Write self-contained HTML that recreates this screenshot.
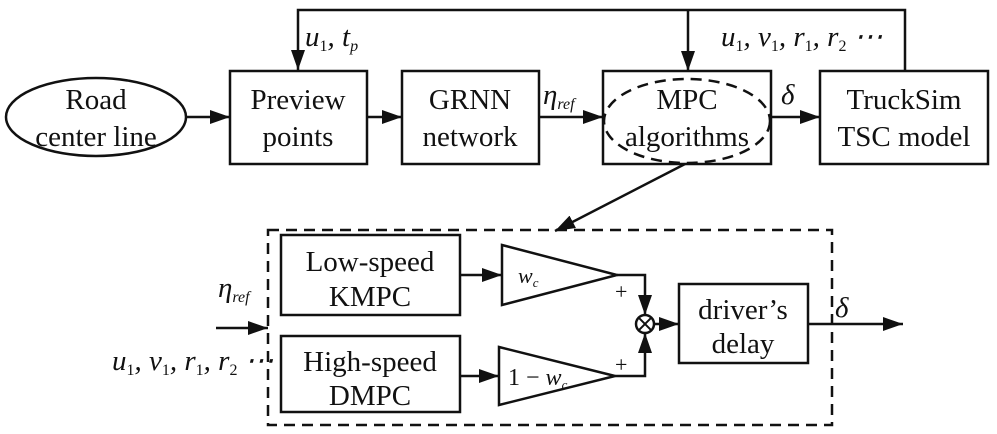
<!DOCTYPE html>
<html><head><meta charset="utf-8"><style>
html,body{margin:0;padding:0;background:#fff;}
svg{display:block;}
text{font-family:"Liberation Serif","DejaVu Serif",serif;fill:#111;}
.b{font-size:29px;}
.m{font-style:italic;font-size:29px;}
.s{font-style:normal;font-size:16px;}
.si{font-style:italic;font-size:16px;}
</style></head><body>
<svg width="997" height="434" viewBox="0 0 997 434" xmlns="http://www.w3.org/2000/svg">
<defs>
<marker id="A" viewBox="0 0 20 14" markerWidth="20" markerHeight="14" refX="20" refY="7" orient="auto" markerUnits="userSpaceOnUse"><path d="M0,0 L20,7 L0,14 z" fill="#111"/></marker></defs>
<g stroke="#111" stroke-width="2.5" fill="none">
<polyline points="905,71 905,10 298,10 298,70" marker-end="url(#A)"/>
<line x1="688" y1="10" x2="688" y2="71" marker-end="url(#A)"/>
<ellipse cx="96" cy="117" rx="90" ry="39"/>
<rect x="230" y="71" width="137" height="93"/>
<rect x="402" y="71" width="137" height="93"/>
<rect x="603" y="71" width="168" height="93"/>
<ellipse cx="687" cy="121" rx="83" ry="42" stroke-dasharray="11,7"/>
<rect x="820" y="71" width="168" height="93"/>
<line x1="186" y1="117" x2="230" y2="117" marker-end="url(#A)"/>
<line x1="367" y1="117" x2="402" y2="117" marker-end="url(#A)"/>
<line x1="539" y1="117" x2="603" y2="117" marker-end="url(#A)"/>
<line x1="771" y1="117" x2="820" y2="117" marker-end="url(#A)"/>
<line x1="685" y1="164" x2="555" y2="231" marker-end="url(#A)"/>
<rect x="268" y="230" width="564" height="195" stroke-dasharray="11,7"/>
<rect x="281" y="235" width="179" height="80"/>
<rect x="281" y="336" width="179" height="76"/>
<polygon points="502,245 617,275 502,305"/>
<polygon points="499,347 615,376 499,405"/>
<circle cx="645" cy="324" r="9"/>
<line x1="638.6" y1="317.6" x2="651.4" y2="330.4" stroke-width="2"/>
<line x1="651.4" y1="317.6" x2="638.6" y2="330.4" stroke-width="2"/>
<rect x="679" y="284" width="129" height="79"/>
<line x1="460" y1="275" x2="502" y2="275" marker-end="url(#A)"/>
<line x1="460" y1="376" x2="499" y2="376" marker-end="url(#A)"/>
<polyline points="617,275 645,275 645,315" marker-end="url(#A)"/>
<polyline points="615,376 645,376 645,333" marker-end="url(#A)"/>
<line x1="654" y1="324" x2="679" y2="324" marker-end="url(#A)"/>
<line x1="808" y1="324" x2="903" y2="324" marker-end="url(#A)"/>
<line x1="216" y1="328" x2="268" y2="328" marker-end="url(#A)"/>
</g>
<g text-anchor="middle" class="b">
<text x="96" y="109">Road</text><text x="96" y="146">center line</text>
<text x="298" y="109">Preview</text><text x="298" y="146">points</text>
<text x="470" y="109">GRNN</text><text x="470" y="146">network</text>
<text x="687" y="109">MPC</text><text x="687" y="146">algorithms</text>
<text x="904" y="109">TruckSim</text><text x="904" y="146">TSC model</text>
<text x="370" y="271">Low-speed</text><text x="370" y="306">KMPC</text>
<text x="370" y="371">High-speed</text><text x="370" y="405">DMPC</text>
<text x="743" y="319">driver’s</text><text x="743" y="353">delay</text>
</g>
<text x="305" y="46" class="m">u<tspan class="s" dy="5">1</tspan><tspan dy="-5">, t</tspan><tspan class="si" dy="5">p</tspan></text>
<text x="721" y="46" class="m">u<tspan class="s" dy="5">1</tspan><tspan dy="-5">, v</tspan><tspan class="s" dy="5">1</tspan><tspan dy="-5">, r</tspan><tspan class="s" dy="5">1</tspan><tspan dy="-5">, r</tspan><tspan class="s" dy="5">2</tspan><tspan dy="-5"> ⋯</tspan></text>
<text x="543" y="104" class="m">η<tspan class="si" dy="5">ref</tspan></text>
<text x="781" y="104" class="m">δ</text>
<text x="218" y="297" class="m">η<tspan class="si" dy="5">ref</tspan></text>
<text x="112" y="370" class="m">u<tspan class="s" dy="5">1</tspan><tspan dy="-5">, v</tspan><tspan class="s" dy="5">1</tspan><tspan dy="-5">, r</tspan><tspan class="s" dy="5">1</tspan><tspan dy="-5">, r</tspan><tspan class="s" dy="5">2</tspan><tspan dy="-5"> ⋯</tspan></text>
<text x="518" y="283" style="font-style:italic;font-size:22px">w<tspan class="si" dy="4" style="font-size:13px">c</tspan></text>
<text x="508" y="385" style="font-size:24px">1 − <tspan font-style="italic">w</tspan><tspan class="si" dy="4" style="font-size:13px">c</tspan></text>
<text x="615" y="299" style="font-size:22px">+</text>
<text x="615" y="372" style="font-size:22px">+</text>
<text x="835" y="317" class="m">δ</text>
</svg>
</body></html>
